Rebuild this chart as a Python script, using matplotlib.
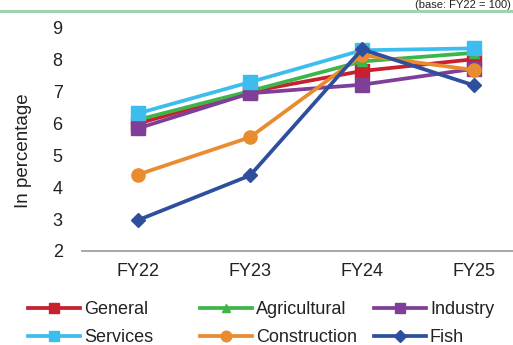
import matplotlib
matplotlib.use("Agg")
import matplotlib.pyplot as plt
from matplotlib.lines import Line2D

plt.rcParams['font.family'] = ['Liberation Sans', 'DejaVu Sans']

categories = ["FY22", "FY23", "FY24", "FY25"]
general = [6.0, 7.0, 7.65, 8.02]
agricultural = [6.12, 7.02, 7.95, 8.22]
industry = [5.85, 6.95, 7.22, 7.72]
services = [6.32, 7.3, 8.3, 8.36]
construction = [4.4, 5.57, 8.15, 7.68]
fish = [2.97, 4.37, 8.33, 7.2]

series = [
    ("General", general, "#c8202e", "s"),
    ("Agricultural", agricultural, "#3db54a", "^"),
    ("Industry", industry, "#7f3f98", "s"),
    ("Services", services, "#3dbdee", "s"),
    ("Construction", construction, "#e98b2f", "o"),
    ("Fish", fish, "#2e4f9e", "D"),
]

FS = 13

fig = plt.figure(figsize=(5.13, 3.45), dpi=100)
ax = fig.add_axes([0.160, 0.2725, 0.873, 0.6464])

x = list(range(len(categories)))
handles = {}
for name, vals, col, mk in series:
    ms = 9.5 if mk in ("s", "o") else (7.5 if mk == "D" else 6.5)
    h, = ax.plot(x, vals, color=col, lw=2.7, marker=mk, markersize=ms,
                 markeredgecolor=col, markerfacecolor=col, label=name)
    handles[name] = h

ax.set_xlim(-0.5, 3.5)
ax.set_ylim(2, 9)
ax.set_yticks(range(2, 10))
ax.set_xticks(x)
ax.set_xticklabels(categories)
ax.tick_params(axis='both', length=0, labelsize=FS, colors='#222222')
ax.tick_params(axis='y', pad=14)
ax.tick_params(axis='x', pad=9)
for s in ["top", "right", "left"]:
    ax.spines[s].set_visible(False)
ax.spines["bottom"].set_color("#a0a0a0")
ax.spines["bottom"].set_linewidth(1.3)
ax.set_ylabel("In percentage", fontsize=13.5, color='#222222')
ax.yaxis.set_label_coords(-0.112, 0.45)

# legend laid out in three equal-width columns like the original
columns = [(["General", "Services"], 28), (["Agricultural", "Construction"], 200),
           (["Industry", "Fish"], 374)]
for names, xpx in columns:
    hs = []
    for name in names:
        h = handles[name]
        hs.append(Line2D([0], [0], color=h.get_color(), lw=2.7, marker=h.get_marker(),
                         markersize=h.get_markersize() * 0.8,
                         markerfacecolor=h.get_color(), markeredgecolor=h.get_color()))
    leg = fig.legend(hs, names, loc="center left", bbox_to_anchor=(xpx / 513, 1 - 323.5 / 345),
                     ncol=1, frameon=False, fontsize=FS, handlelength=2.9, handletextpad=0.2,
                     labelspacing=0.6, borderaxespad=0.0, borderpad=0.0)
    for t in leg.get_texts():
        t.set_color('#222222')

# top decoration: note and green rule
fig.add_artist(Line2D([0, 1], [1 - 11 / 345, 1 - 11 / 345], transform=fig.transFigure,
                      color="#9fd3b0", lw=2.2))
fig.text(0.995, 1 - 0.5 / 345, "(base: FY22 = 100)", ha="right", va="top",
         fontsize=8, color="#222222")

fig.savefig("out.png", dpi=100)
